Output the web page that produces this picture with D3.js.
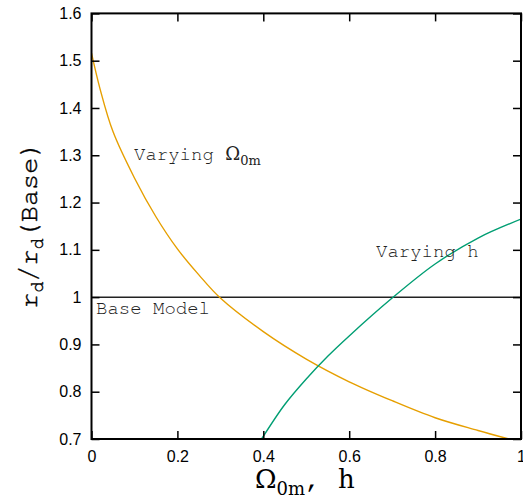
<!DOCTYPE html>
<html><head><meta charset="utf-8">
<script src="https://cdn.jsdelivr.net/npm/d3@7/dist/d3.min.js"></script>
<style>body{margin:0;background:#fff;overflow:hidden}</style>
</head><body>
<script>
// ---- data ----
const xTicks = [0, 0.2, 0.4, 0.6, 0.8, 1.0];
const xTickLabels = ["0", "0.2", "0.4", "0.6", "0.8", "1"];
const yTicks = [0.7, 0.8, 0.9, 1.0, 1.1, 1.2, 1.3, 1.4, 1.5, 1.6];
const yTickLabels = ["0.7", "0.8", "0.9", "1", "1.1", "1.2", "1.3", "1.4", "1.5", "1.6"];

// Varying Omega_0m (orange)
const omegaX = [0, 0.02, 0.05, 0.1, 0.15, 0.2, 0.25, 0.3, 0.4, 0.5, 0.6, 0.7, 0.8, 0.9, 1.0];
const omegaY = [1.516, 1.44, 1.35, 1.252, 1.17, 1.102, 1.047, 0.998, 0.927, 0.869, 0.821, 0.781, 0.745, 0.718, 0.693];
// Varying h (green)
const hX = [0.396, 0.45, 0.5, 0.55, 0.6, 0.7, 0.8, 0.9, 1.0];
const hY = [0.70, 0.773, 0.827, 0.875, 0.918, 0.998, 1.07, 1.125, 1.165];
// Base model
const baseX = [0, 1];
const baseY = [1, 1];

const W = 523, H = 496;
const x = d3.scaleLinear().domain([0, 1]).range([91.5, 521]);
const y = d3.scaleLinear().domain([0.7, 1.6]).range([439, 13.4]);

const svg = d3.select("body").append("svg").attr("width", W).attr("height", H);

svg.append("defs").append("clipPath").attr("id", "clip")
  .append("rect").attr("x", x(0)).attr("y", y(1.6)).attr("width", x(1) - x(0)).attr("height", y(0.7) - y(1.6));

const line = d3.line().x(d => x(d[0])).y(d => y(d[1])).curve(d3.curveCatmullRom.alpha(0.5));
const g = svg.append("g").attr("clip-path", "url(#clip)");

g.append("path").datum(baseX.map((v, i) => [v, baseY[i]]))
  .attr("d", d3.line().x(d => x(d[0])).y(d => y(d[1])))
  .attr("fill", "none").attr("stroke", "#222").attr("stroke-width", 1.5);
g.append("path").datum(omegaX.map((v, i) => [v, omegaY[i]]))
  .attr("d", line).attr("fill", "none").attr("stroke", "#E69F00").attr("stroke-width", 1.4);
g.append("path").datum(hX.map((v, i) => [v, hY[i]]))
  .attr("d", line).attr("fill", "none").attr("stroke", "#009E73").attr("stroke-width", 1.4);

// axes
const tickFont = "'Liberation Sans', Arial, sans-serif";
const ax = svg.append("g").attr("transform", `translate(0,${y(0.7)})`)
  .call(d3.axisBottom(x).tickValues(xTicks).tickFormat((d, i) => xTickLabels[i]).tickSizeInner(-8).tickSizeOuter(0).tickPadding(11.5));
const ay = svg.append("g").attr("transform", `translate(${x(0)},0)`)
  .call(d3.axisLeft(y).tickValues(yTicks).tickFormat((d, i) => yTickLabels[i]).tickSizeInner(-8).tickSizeOuter(0).tickPadding(10));
const at = svg.append("g").attr("transform", `translate(0,${y(1.6)})`)
  .call(d3.axisTop(x).tickValues(xTicks).tickFormat("").tickSizeInner(-8).tickSizeOuter(0));
const ar = svg.append("g").attr("transform", `translate(${x(1)},0)`)
  .call(d3.axisRight(y).tickValues(yTicks).tickFormat("").tickSizeInner(-8).tickSizeOuter(0));
[ax, ay, at, ar].forEach(a => {
  a.select(".domain").remove();
  a.selectAll(".tick line").attr("stroke", "#000").attr("stroke-width", 1.5);
  a.selectAll("text").attr("font-family", tickFont).attr("font-size", 16).attr("fill", "#000");
});

svg.append("rect").attr("x", x(0)).attr("y", y(1.6)).attr("width", x(1) - x(0)).attr("height", y(0.7) - y(1.6))
  .attr("fill", "none").attr("stroke", "#000").attr("stroke-width", 2);

// annotations
const mono = "'Nimbus Mono PS', 'Nimbus Mono L', FreeMono, 'Courier 10 Pitch', Courier, 'Liberation Mono', monospace";
const serif = "'DejaVu Serif', serif";
const t1 = svg.append("text").attr("x", 134).attr("y", 160).attr("font-family", mono).attr("font-size", 19).attr("fill", "#222");
t1.append("tspan").text("Varying ");
t1.append("tspan").attr("font-family", serif).attr("font-size", 18).text("Ω");
t1.append("tspan").attr("font-family", serif).attr("font-size", 13).attr("dy", 5).text("0m");

svg.append("text").attr("x", 376).attr("y", 257).attr("font-family", mono).attr("font-size", 19).attr("fill", "#222").text("Varying h");
svg.append("text").attr("x", 96).attr("y", 314).attr("font-family", mono).attr("font-size", 19).attr("fill", "#222").text("Base Model");

// x axis title
const xt = svg.append("text").attr("x", 255).attr("y", 488).attr("font-family", serif).attr("font-size", 26).attr("fill", "#000");
xt.append("tspan").text("Ω");
xt.append("tspan").attr("font-size", 18).attr("dy", 7).text("0m");
xt.append("tspan").attr("font-family", mono).attr("font-size", 26).attr("dy", -7).text(",");
xt.append("tspan").attr("x", 338).text("h");

// y axis title
const yt = svg.append("text").attr("transform", "translate(37,225) rotate(-90)").attr("text-anchor", "middle")
  .attr("font-family", mono).attr("font-size", 27).attr("fill", "#000")
  .attr("stroke", "#000").attr("stroke-width", 0.4);
yt.append("tspan").text("r");
yt.append("tspan").attr("font-size", 18).attr("dy", 6).text("d");
yt.append("tspan").attr("dy", -6).text("/r");
yt.append("tspan").attr("font-size", 18).attr("dy", 6).text("d");
yt.append("tspan").attr("dy", -6).text("(Base)");
</script>
</body></html>
